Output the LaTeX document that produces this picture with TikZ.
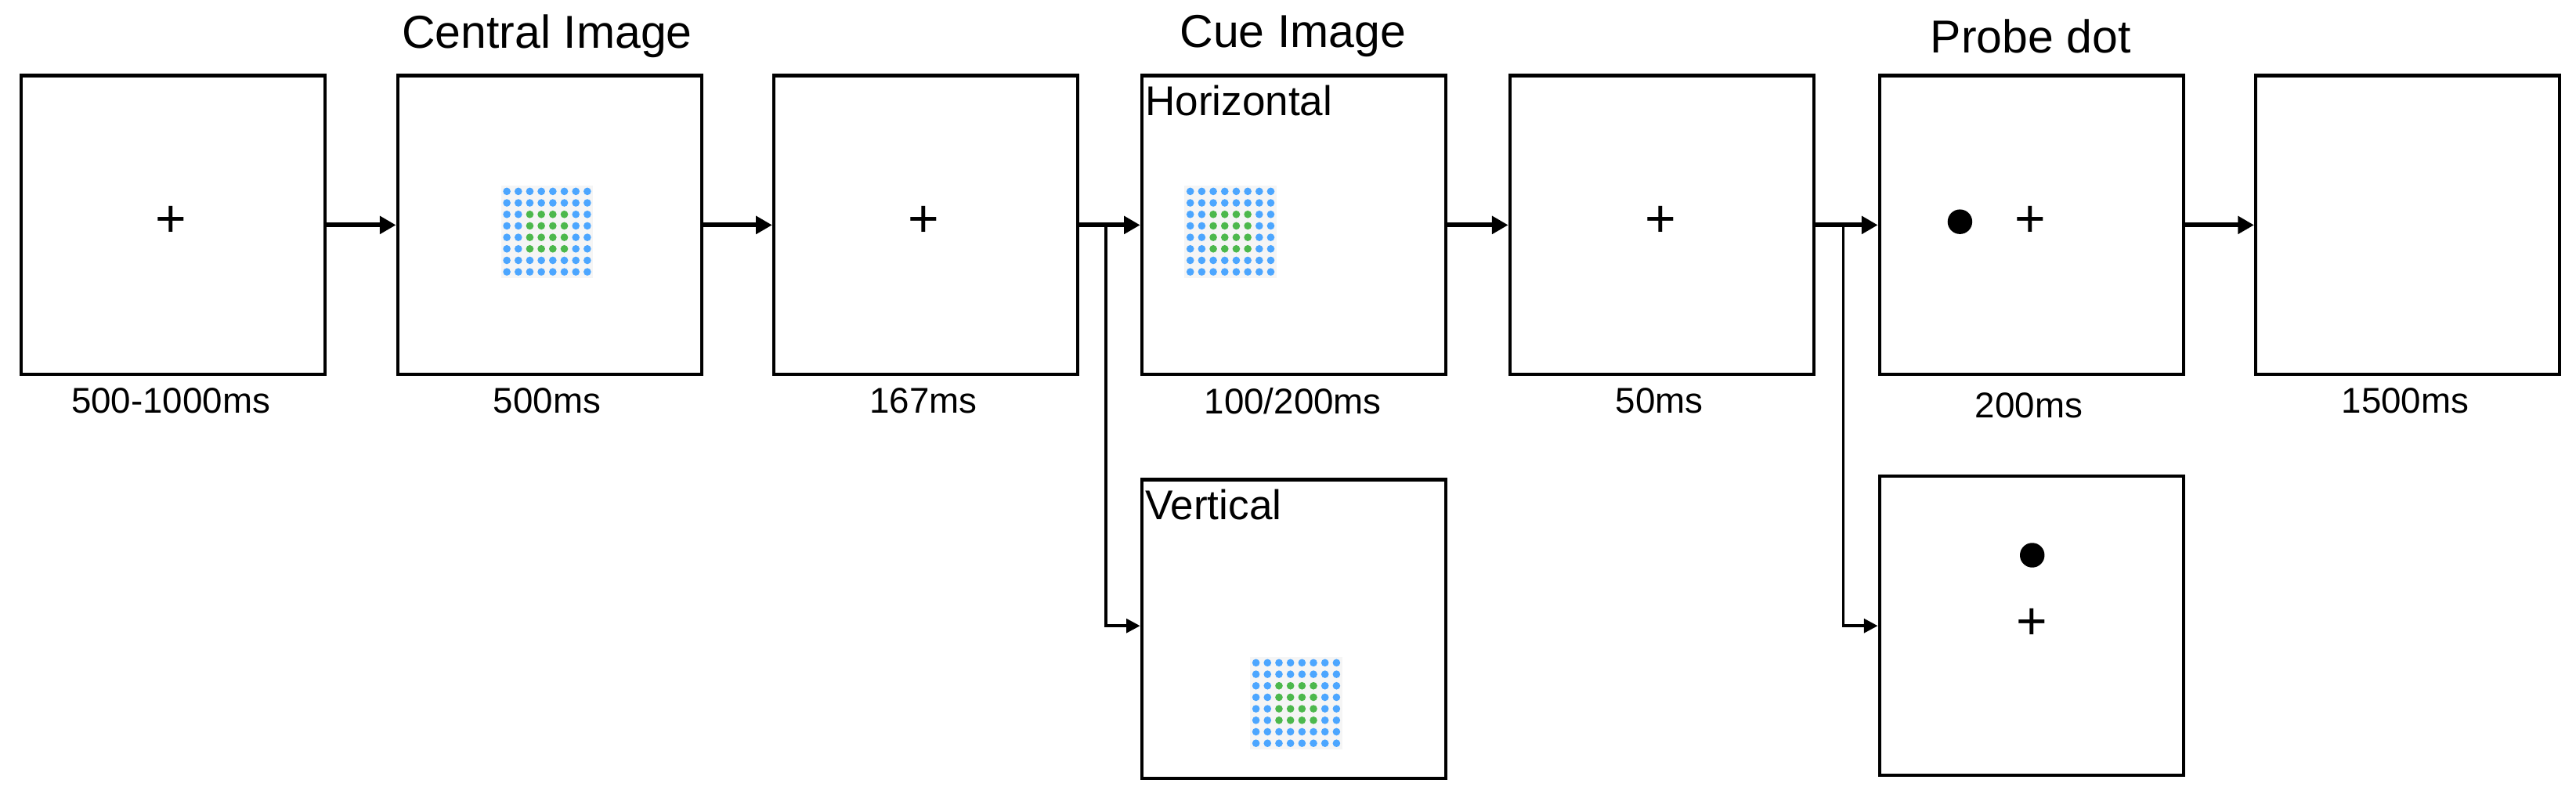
\documentclass[tikz,border=0pt]{standalone}
\usepackage{fontspec}
\setmainfont{Liberation Sans}
\usetikzlibrary{arrows.meta}
\begin{document}
\begin{tikzpicture}[x=0.05cm,y=-0.05cm,
  screen/.style={draw,line width=2.8pt,minimum width=9.25cm,minimum height=9.1cm,inner sep=0,anchor=north west},
  lab/.style={font=\fontsize{31}{31}\selectfont},
  ttl/.style={font=\fontsize{40}{40}\selectfont},
  sub/.style={font=\fontsize{36}{36}\selectfont,anchor=north west,inner sep=0},
  arr/.style={line width=4pt,-{Triangle[length=14pt,width=15pt]}},
  thin/.style={line width=2.6pt,-{Triangle[length=12pt,width=12pt]}},
  fix/.style={font=\fontsize{46}{46}\selectfont,inner sep=0}]
\useasboundingbox (0,0) rectangle (1568,490);
\newcommand{\dotgrid}[2]{%
  \fill[black!4] (#1-28,#2-28) rectangle (#1+28,#2+28);
  \foreach \i in {0,...,7}{\foreach \j in {0,...,7}{%
    \pgfmathtruncatemacro{\g}{(\i>1)&&(\i<6)&&(\j>1)&&(\j<6)}%
    \ifnum\g=1 \fill[green!60!black!70!white] (#1-24.5+7*\i,#2-24.5+7*\j) circle (2.3);
    \else \fill[blue!50!cyan!70!white] (#1-24.5+7*\i,#2-24.5+7*\j) circle (2.3);\fi}}}
\node[screen] (b1) at (12,45) {};
\node[screen] (b2) at (241,45) {};
\node[screen] (b3) at (470,45) {};
\node[screen] (b4) at (694,45) {};
\node[screen] (b5) at (918,45) {};
\node[screen] (b6) at (1143,45) {};
\node[screen] (b7) at (1372,45) {};
\node[screen] (v) at (694,291) {};
\node[screen] (p) at (1143,289) {};
\node[ttl] (t2) at (333,22) {Central Image};
\node[ttl] (t4) at (787,22) {Cue Image};
\node[ttl] (t6) at (1236,22) {Probe dot};
\node[lab] (l1) at (104,244) {500-1000ms};
\node[lab] (l2) at (333,244) {500ms};
\node[lab] (l3) at (562,244) {167ms};
\node[lab] (l4) at (787,244) {100/200ms};
\node[lab] (l5) at (1010,244) {50ms};
\node[lab] (l6) at (1235,247) {200ms};
\node[lab] (l7) at (1464,244) {1500ms};
\node[sub] (h) at (697,52) {Horizontal};
\node[sub] (vt) at (697,298) {Vertical};
\node[fix] (f1) at (104,135) {+};
\node[fix] (f3) at (562,135) {+};
\node[fix] (f5) at (1011,135) {+};
\node[fix] (f6) at (1236,135) {+};
\node[fix] (f8) at (1237,380) {+};
\fill (1193,135) circle (7.5);
\fill (1237,338) circle (7.5);
\dotgrid{333}{141}
\dotgrid{749}{141}
\dotgrid{789}{428}
\draw[arr] (b1.east |- 0,137) -- (b2.west |- 0,137);
\draw[arr] (b2.east |- 0,137) -- (b3.west |- 0,137);
\draw[arr] (b3.east |- 0,137) -- (b4.west |- 0,137);
\draw[arr] (b4.east |- 0,137) -- (b5.west |- 0,137);
\draw[arr] (b5.east |- 0,137) -- (b6.west |- 0,137);
\draw[arr] (b6.east |- 0,137) -- (b7.west |- 0,137);
\coordinate (j1) at (673,137);
\coordinate (j2) at (1122,137);
\draw[thin] (j1) |- (v.west |- 0,381);
\draw[thin] (j2) |- (p.west |- 0,381);
\end{tikzpicture}
\end{document}
